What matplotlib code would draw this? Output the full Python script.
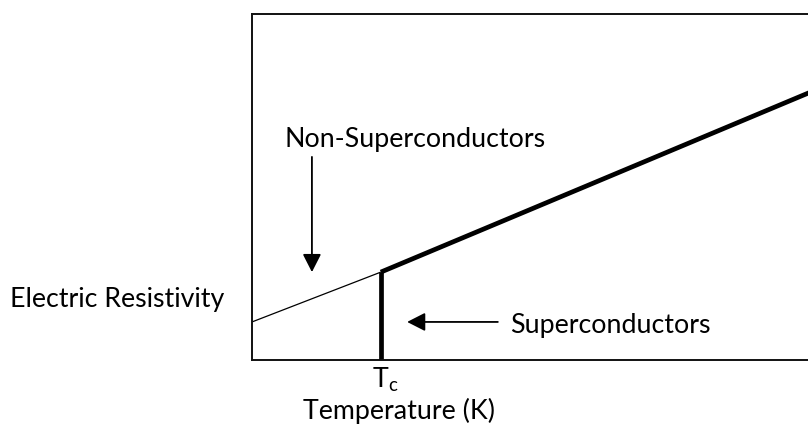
import matplotlib.pyplot as plt

plt.rcParams['font.family'] = ['Lato', 'DejaVu Sans']
plt.rcParams['mathtext.fontset'] = 'custom'
plt.rcParams['mathtext.rm'] = 'Lato'

# schematic values (arbitrary units)
t_normal = [0.0, 2.3]        # below Tc, ordinary metal
rho_normal = [1.10, 2.54]
t_super = [2.3, 10.0]        # above Tc
rho_super = [2.54, 7.76]
t_drop = [2.3, 2.3]          # resistivity falls to zero at Tc
rho_drop = [0.0, 2.54]

FS = 19.3

fig = plt.figure(figsize=(8.08, 4.29), dpi=100)
ax = fig.add_axes([252 / 808, 69 / 429, 560 / 808, 346 / 429])
ax.set_xlim(0, 10)
ax.set_ylim(0, 10)
ax.set_xticks([])
ax.set_yticks([])
for s in ax.spines.values():
    s.set_linewidth(1.4)
    s.set_color('#111111')

ax.plot(t_normal, rho_normal, color='black', lw=0.9, solid_capstyle='butt')
ax.plot(t_super, rho_super, color='black', lw=3.4, solid_capstyle='butt')
ax.plot(t_drop, rho_drop, color='black', lw=3.4, solid_capstyle='butt')

arrow = dict(arrowstyle='-|>,head_length=0.55,head_width=0.28', mutation_scale=20,
             color='black', lw=1.3, shrinkA=0, shrinkB=0)
ax.annotate('', xy=(1.07, 2.54), xytext=(1.07, 5.87), arrowprops=arrow)
ax.annotate('', xy=(2.77, 1.10), xytext=(4.39, 1.10), arrowprops=arrow)

ax.text(2.91, 6.16, 'Non-Superconductors', ha='center', va='baseline', fontsize=FS)
ax.text(4.61, 0.78, 'Superconductors', ha='left', va='baseline', fontsize=FS)
ax.text(-0.5, 1.53, 'Electric Resistivity', ha='right', va='baseline', fontsize=FS,
        clip_on=False)
ax.text(2.375, -0.81, r'$\mathregular{T_c}$', ha='center', va='baseline', fontsize=FS,
        clip_on=False)
ax.text(2.62, -1.71, 'Temperature (K)', ha='center', va='baseline', fontsize=FS,
        clip_on=False)

fig.savefig('out.png', dpi=100)
